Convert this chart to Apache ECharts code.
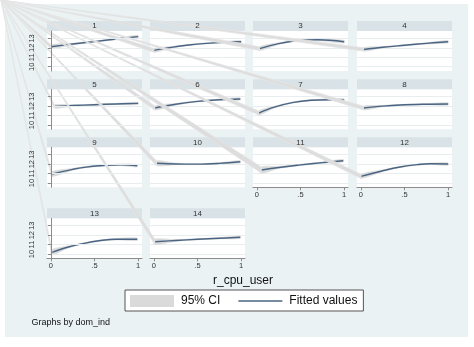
<!DOCTYPE html>
<html><head><meta charset="utf-8">
<script src="https://cdn.jsdelivr.net/npm/echarts@6/dist/echarts.min.js"></script>
<style>html,body{margin:0;padding:0;background:#fff}#c{width:474px;height:347px}</style>
</head><body><div id="c"></div>
<script>
// ---------- data ----------
const panelLabels = ['1','2','3','4','5','6','7','8','9','10','11','12','13','14'];
const fitX = [
  [0, 0.25, 0.5, 0.75, 1],
  [0, 0.2, 0.4, 0.6, 0.8, 1],
  [0.03, 0.25, 0.5, 0.7, 1],
  [0.03, 0.25, 0.5, 0.75, 1],
  [0.04, 0.25, 0.5, 0.75, 1],
  [0.01, 0.25, 0.5, 0.75, 0.99],
  [0.02, 0.2, 0.42, 0.62, 0.84, 1],
  [0.03, 0.25, 0.45, 0.75, 1],
  [0.01, 0.25, 0.38, 0.6, 0.8, 0.99],
  [0.03, 0.25, 0.5, 0.75, 0.99],
  [0.05, 0.25, 0.5, 0.75, 0.99],
  [0, 0.25, 0.45, 0.65, 0.8, 1],
  [0.01, 0.2, 0.38, 0.55, 0.75, 0.99],
  [0.01, 0.25, 0.5, 0.75, 0.99]
];
const fitY = [
  [12.12, 12.40, 12.66, 12.93, 13.18],
  [11.73, 12.05, 12.30, 12.47, 12.58, 12.64],
  [11.91, 12.45, 12.80, 12.86, 12.65],
  [11.83, 12.06, 12.27, 12.47, 12.65],
  [11.97, 12.06, 12.15, 12.23, 12.29],
  [11.80, 12.20, 12.50, 12.68, 12.76],
  [11.27, 11.90, 12.40, 12.62, 12.68, 12.66],
  [11.80, 12.00, 12.12, 12.20, 12.23],
  [10.95, 11.45, 11.66, 11.85, 11.94, 11.83],
  [12.09, 12.02, 12.00, 12.08, 12.25],
  [11.38, 11.65, 11.92, 12.16, 12.36],
  [10.71, 11.30, 11.70, 11.95, 12.04, 12.01],
  [10.18, 10.75, 11.13, 11.40, 11.57, 11.56],
  [11.30, 11.44, 11.56, 11.67, 11.77]
];
const ciHalf = [
  [0.20, 0.08, 0.05, 0.07, 0.14],
  [0.20, 0.08, 0.05, 0.05, 0.07, 0.12],
  [0.20, 0.08, 0.05, 0.06, 0.14],
  [0.18, 0.07, 0.05, 0.06, 0.12],
  [0.18, 0.07, 0.05, 0.06, 0.12],
  [0.22, 0.08, 0.05, 0.06, 0.12],
  [0.22, 0.09, 0.05, 0.05, 0.07, 0.12],
  [0.20, 0.07, 0.05, 0.06, 0.12],
  [0.25, 0.09, 0.06, 0.05, 0.07, 0.13],
  [0.25, 0.08, 0.05, 0.06, 0.12],
  [0.32, 0.10, 0.06, 0.07, 0.13],
  [0.22, 0.09, 0.05, 0.05, 0.07, 0.12],
  [0.28, 0.10, 0.06, 0.05, 0.07, 0.13],
  [0.28, 0.09, 0.05, 0.06, 0.12]
];
const xTickValues = [0, 0.5, 1];
const xTickLabels = ['0', '.5', '1'];
const yTickValues = [10, 11, 12, 13];
const xTitle = 'r_cpu_user';
const ciName = '95% CI';
const fitName = 'Fitted values';
const noteText = 'Graphs by dom_ind';

// ---------- style / layout ----------
const FONT = '"Liberation Sans", Arial, Helvetica, sans-serif';
const colLeft = [47, 150, 253, 357];
const rowTop = [31, 89.3, 147.3, 218.3];
const PW = 95, PH = 40, HEAD = 10;
const X_MIN = -0.045, X_MAX = 1.045, Y_MIN = 9.55, Y_MAX = 13.78;
const LINE_COLOR = '#4a6583';
const CI_COLOR = '#dadada';
const BAND_FILL = '#dddddd';
const BAND_EDGE = '#e4e4e4';
const BG = '#eaf2f3';
const HEAD_BG = '#d9e3e7';
const AXIS_COLOR = '#8c8c8c';
const bottomPanels = [10, 11, 12, 13];

const chart = echarts.init(document.getElementById('c'), null, {renderer: 'canvas'});

const grids = [], xAxes = [], yAxes = [], series = [], baseGraphics = [];
baseGraphics.push({type: 'rect', z: -100, shape: {x: 5, y: 4, width: 463, height: 333}, style: {fill: BG}, silent: true});

panelLabels.forEach((lab, i) => {
  const col = i % 4, row = Math.floor(i / 4);
  const left = colLeft[col], top = rowTop[row];
  grids.push({left: left, top: top, width: PW, height: PH, show: true, backgroundColor: '#fff', borderWidth: 0});
  const showX = bottomPanels.includes(i);
  xAxes.push({
    type: 'value', gridIndex: i, min: X_MIN, max: X_MAX,
    axisLine: {show: showX, onZero: false, lineStyle: {color: AXIS_COLOR, width: 1}},
    axisTick: {show: showX, length: 3, customValues: xTickValues, lineStyle: {color: AXIS_COLOR}},
    axisLabel: {show: showX, customValues: xTickValues, margin: 4, fontSize: 7.5, fontFamily: FONT, color: '#333',
      formatter: v => xTickLabels[xTickValues.indexOf(v)] ?? ''},
    splitLine: {show: false}
  });
  const showY = col === 0;
  yAxes.push({
    type: 'value', gridIndex: i, min: Y_MIN, max: Y_MAX, z: showY ? 110 : 0,
    axisLine: {show: showY, lineStyle: {color: AXIS_COLOR, width: 1}},
    axisTick: {show: showY, length: 3, customValues: yTickValues, lineStyle: {color: AXIS_COLOR}},
    axisLabel: {show: showY, customValues: yTickValues, rotate: 90, margin: 11, fontSize: 7.5, fontFamily: FONT, color: '#333'},
    splitLine: {show: true, lineStyle: {color: '#e8eef0', width: 1}}
  });
  // header strip
  baseGraphics.push({type: 'rect', z: 1, shape: {x: left, y: top - HEAD, width: PW, height: HEAD}, style: {fill: HEAD_BG}, silent: true});
  baseGraphics.push({type: 'text', z: 120, x: left + PW / 2, y: top - HEAD / 2,
    style: {text: lab, fontSize: 8, fontFamily: FONT, fill: '#333', align: 'center', verticalAlign: 'middle'}, silent: true});

  const pts = fitX[i].map((x, j) => [x, fitY[i][j]]);
  // CI band
  series.push({
    type: 'custom', name: ciName, xAxisIndex: i, yAxisIndex: i, data: pts, clip: false,
    itemStyle: {color: CI_COLOR}, z: 1,
    renderItem: (params, api) => {
      if (params.dataIndex !== 0) return null;
      const upper = fitX[i].map((x, j) => api.coord([x, fitY[i][j] + ciHalf[i][j]]));
      const lower = fitX[i].map((x, j) => api.coord([x, fitY[i][j] - ciHalf[i][j]])).reverse();
      return {type: 'polygon', shape: {points: upper.concat(lower), smooth: 0.3},
        style: {fill: CI_COLOR, stroke: CI_COLOR, lineWidth: 0.8}};
    }
  });
  // fitted line
  series.push({
    type: 'line', name: fitName, xAxisIndex: i, yAxisIndex: i, data: pts,
    smooth: 0.4, symbol: 'none', showSymbol: false, z: 3,
    itemStyle: {color: LINE_COLOR},
    lineStyle: {color: LINE_COLOR, width: 1.4}
  });
});

// axis title and note
baseGraphics.push({type: 'text', z: 2, x: 243, y: 281,
  style: {text: xTitle, fontSize: 12, fontFamily: FONT, fill: '#111', align: 'center', verticalAlign: 'middle'}, silent: true});
baseGraphics.push({type: 'text', z: 2, x: 31.5, y: 322.5,
  style: {text: noteText, fontSize: 9, fontFamily: FONT, fill: '#111', align: 'left', verticalAlign: 'middle'}, silent: true});

chart.setOption({
  backgroundColor: '#fff',
  animation: false,
  grid: grids, xAxis: xAxes, yAxis: yAxes, series: series,
  legend: {
    left: 125, top: 290, orient: 'horizontal',
    backgroundColor: '#fff', borderColor: '#555', borderWidth: 1, borderRadius: 0,
    padding: [5, 6, 4, 5], itemGap: 18, itemWidth: 44, itemHeight: 12,
    textStyle: {fontSize: 12, fontFamily: FONT, color: '#111', padding: [0, 0, 0, 2]},
    selectedMode: false,
    data: [
      {name: ciName, icon: 'rect', itemStyle: {color: CI_COLOR}},
      {name: fitName, icon: 'path://M0,0 L44,0 L44,1.4 L0,1.4 Z', itemStyle: {color: LINE_COLOR}}
    ]
  },
  graphic: baseGraphics
});

// rendering artefact: CI polygons joined to the graph origin
const ORIGIN = [1, 0];
const wedges = panelLabels.map((lab, i) => {
  const hi = chart.convertToPixel({gridIndex: i}, [fitX[i][0], fitY[i][0] + ciHalf[i][0]]);
  const lo = chart.convertToPixel({gridIndex: i}, [fitX[i][0], fitY[i][0] - ciHalf[i][0]]);
  return {type: 'polygon', z: 100, silent: true,
    shape: {points: [ORIGIN, hi, lo]},
    style: {fill: BAND_FILL, stroke: BAND_EDGE, lineWidth: 0.8}};
});
chart.setOption({graphic: baseGraphics.concat(wedges)});
</script></body></html>
